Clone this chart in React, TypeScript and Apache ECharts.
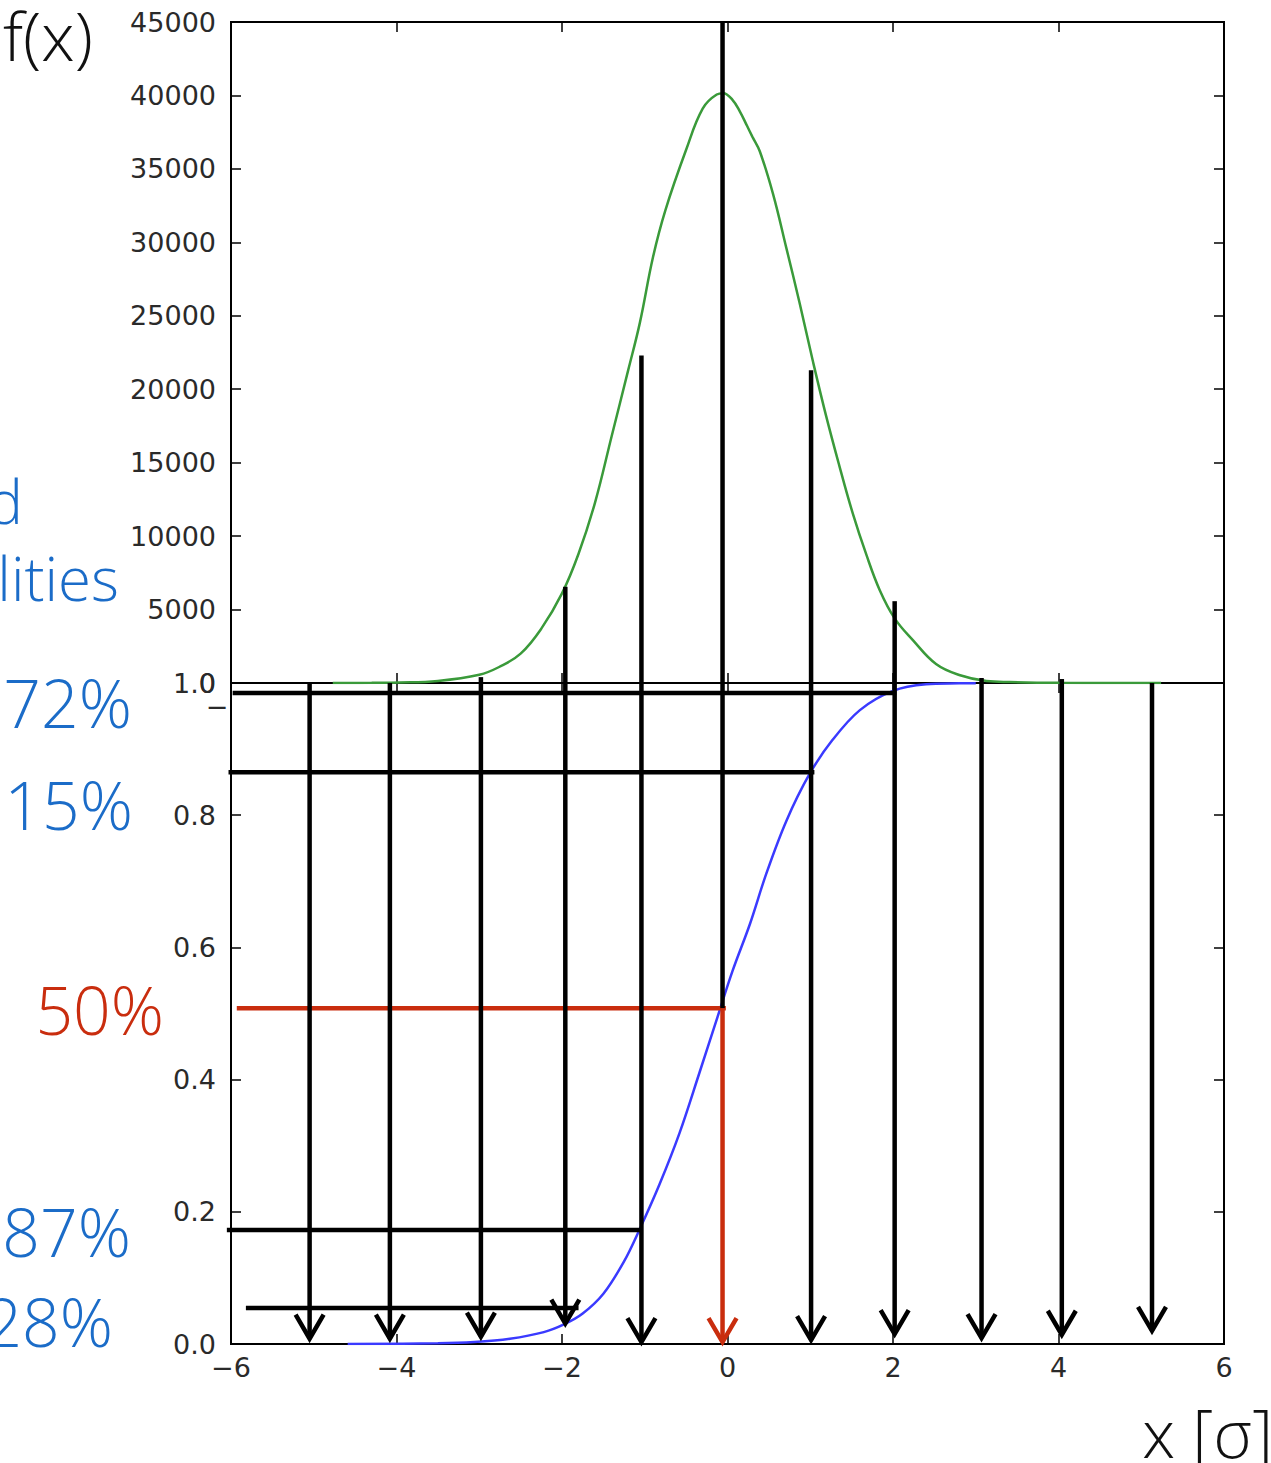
import React, { useEffect, useRef } from "react";
import * as echarts from "echarts";

// ---- data ----
// Gaussian histogram (top panel), x in sigma, f(x) counts
const pdfX = [-4.77, -4.3, -3.96, -3.5, -3.0, -2.76, -2.5, -2.25, -2.0, -1.8, -1.6, -1.4, -1.2, -1.06, -0.9, -0.75, -0.5, -0.3, -0.13, -0.05, 0.06, 0.15, 0.23, 0.3, 0.39, 0.55, 0.71, 0.87, 1.03, 1.19, 1.35, 1.51, 1.68, 1.84, 2.02, 2.24, 2.52, 2.8, 3.13, 3.41, 4.0, 4.6, 5.24];
const pdfY = [0, 10, 30, 140, 560, 1090, 2000, 3700, 6100, 8800, 12300, 16800, 21300, 24500, 29000, 32200, 36300, 39100, 40060, 40150, 39700, 38900, 38000, 37200, 36200, 33300, 29640, 25900, 21950, 18220, 14820, 11620, 8700, 6320, 4400, 2920, 1290, 544, 136, 68, 15, 5, 0];

// cumulative distribution (bottom panel)
const cdfX = [-4.59, -3.5, -3.06, -2.63, -2.22, -1.97, -1.75, -1.5, -1.25, -1.06, -0.82, -0.58, -0.34, -0.12, 0.06, 0.27, 0.47, 0.71, 0.99, 1.27, 1.6, 2.0, 2.4, 2.8, 3.0];
const cdfY = [0, 0.001, 0.003, 0.008, 0.018, 0.03, 0.046, 0.076, 0.125, 0.174, 0.242, 0.319, 0.41, 0.495, 0.564, 0.635, 0.712, 0.791, 0.862, 0.914, 0.959, 0.988, 0.998, 0.9995, 0.9998];

// vertical arrows: x position, start height in top panel (f units), tip level in bottom panel (CDF units)
const arrowX = [-5.05, -4.08, -2.98, -1.96, -1.04, 1.01, 2.02, 3.07, 4.04, 5.13];
const arrowTop = [0, 0, 400, 6550, 22300, 21300, 5570, 340, 270, 0];
const arrowTip = [0.008, 0.008, 0.011, 0.031, 0.003, 0.006, 0.015, 0.009, 0.014, 0.02];

// central (median) line
const centerX = -0.06;
const centerTop = 45000;
const medianLevel = 0.508;
const centerTip = 0.003;

// horizontal reading lines (CDF units)
const hLineY = [0.985, 0.865, 0.1725, 0.0545];
const hLineStart = [-5.98, -6.03, -6.05, -5.82];
const hLineEnd = [2.04, 1.05, -1.04, -1.8];
const redLineStart = -5.93;
const redLineEnd = -0.02;

// axis ticks
const xMin = -6, xMax = 6, xStep = 2;
const fMax = 45000, fStep = 5000;
const cMax = 1, cStep = 0.2;

// side labels
const blueLabels = ["Cumulated", "probabilities", "97.72%", "84.15%", "15.87%", "2.28%"];
const medianLabel = "50%";

const BLUE = "#1b6cc8";
const RED = "#c92d0e";
const GREEN = "#3a9a3a";
const CDFBLUE = "#3a3aff";
const LW = 4.5;
const TICK_FONT = "DejaVu Sans";
const BIG_FONT = "'Open Sans', Lato, sans-serif";

export default function App() {
  const ref = useRef<HTMLDivElement>(null);
  useEffect(() => {
    document.body.style.margin = "0";
    if (!ref.current) return;
    const chart = echarts.init(ref.current, null, { renderer: "svg" });

    const gridL = 231, gridW = 993, topT = 22, panelH = 661;
    const tickStyle = { show: true, inside: true, length: 10, lineStyle: { color: "#000", width: 1.5 } };
    const lblStyle = { fontFamily: TICK_FONT, fontSize: 27, color: "#2a2a2a" };

    const xAxisBase = (gi: number, pos: string, labels: boolean) => ({
      type: "value", gridIndex: gi, position: pos, min: xMin, max: xMax, interval: xStep,
      axisLine: { show: false, onZero: false }, axisTick: tickStyle, splitLine: { show: false },
      axisLabel: labels
        ? { show: true, margin: 10, ...lblStyle, formatter: (v: number) => (v < 0 ? "\u2212" + Math.abs(v) : String(v)) }
        : { show: false },
    });
    const yAxisBase = (gi: number, pos: string, labels: boolean, max: number, step: number, fmt: (v: number) => string) => ({
      type: "value", gridIndex: gi, position: pos, min: 0, max, interval: step,
      axisLine: { show: false, onZero: false }, axisTick: tickStyle, splitLine: { show: false },
      axisLabel: labels ? { show: true, margin: 15, ...lblStyle, formatter: fmt } : { show: false },
    });

    const pdfData = pdfX.map((x, i) => [x, pdfY[i]]);
    const cdfData = cdfX.map((x, i) => [x, cdfY[i]]);
    const topSegs = arrowX.map((x, i) => [x, arrowTop[i]]).concat([[centerX, centerTop]]);
    const bottomArrows = arrowX
      .map((x, i) => [x, cMax, arrowTip[i], 0, 1])
      .concat([[centerX, cMax, medianLevel, 0, 0], [centerX, medianLevel, centerTip, 1, 1]]);
    const hLines = hLineY
      .map((y, i) => [hLineStart[i], hLineEnd[i], y, 0])
      .concat([[redLineStart, redLineEnd, medianLevel, 1]]);

    const bigText = (text: string, x: number, y: number, fill: string, size: number, align = "right") => ({
      type: "text", x, y,
      style: { text, font: `300 ${size}px ${BIG_FONT}`, fill, textAlign: align, textVerticalAlign: "middle" },
    });

    const option: any = {
      animation: false,
      backgroundColor: "#fff",
      grid: [
        { left: gridL, top: topT, width: gridW, height: panelH, show: true, borderColor: "#000", borderWidth: 2, backgroundColor: "transparent" },
        { left: gridL, top: topT + panelH, width: gridW, height: panelH, show: true, borderColor: "#000", borderWidth: 2, backgroundColor: "transparent" },
      ],
      xAxis: [
        xAxisBase(0, "bottom", false),
        xAxisBase(0, "top", false),
        xAxisBase(1, "bottom", true),
        xAxisBase(1, "top", false),
      ],
      yAxis: [
        yAxisBase(0, "left", true, fMax, fStep, (v) => String(v)),
        yAxisBase(0, "right", false, fMax, fStep, (v) => String(v)),
        yAxisBase(1, "left", true, cMax, cStep, (v) => v.toFixed(1)),
        yAxisBase(1, "right", false, cMax, cStep, (v) => v.toFixed(1)),
      ],
      series: [
        {
          type: "line", xAxisIndex: 0, yAxisIndex: 0, data: pdfData, showSymbol: false, smooth: 0.4,
          lineStyle: { color: GREEN, width: 2.5 }, z: 2,
        },
        {
          type: "line", xAxisIndex: 2, yAxisIndex: 2, data: cdfData, showSymbol: false, smooth: 0.35,
          lineStyle: { color: CDFBLUE, width: 2.5 }, z: 2,
        },
        {
          type: "custom", xAxisIndex: 0, yAxisIndex: 0, data: topSegs, clip: false, z: 5,
          encode: { x: 0, y: 1 },
          renderItem: (_p: any, api: any) => {
            const x = api.value(0), top = api.value(1);
            const a = api.coord([x, top]);
            const b = api.coord([x, 0]);
            return { type: "line", shape: { x1: a[0], y1: a[1], x2: b[0], y2: b[1] }, style: { stroke: "#000", lineWidth: LW } };
          },
        },
        {
          type: "custom", xAxisIndex: 2, yAxisIndex: 2, data: bottomArrows, clip: false, z: 5,
          encode: { x: 0, y: [1, 2] },
          renderItem: (_p: any, api: any) => {
            const x = api.value(0), y0 = api.value(1), y1 = api.value(2);
            const col = api.value(3) ? RED : "#000";
            const a = api.coord([x, y0]);
            const b = api.coord([x, y1]);
            const children: any[] = [
              { type: "line", shape: { x1: a[0], y1: a[1], x2: b[0], y2: b[1] }, style: { stroke: col, lineWidth: LW } },
            ];
            if (api.value(4)) {
              children.push({
                type: "polyline",
                shape: { points: [[b[0] - 14, b[1] - 24], [b[0], b[1]], [b[0] + 14, b[1] - 24]] },
                style: { stroke: col, lineWidth: LW, fill: "none", lineJoin: "miter" },
              });
            }
            return { type: "group", children };
          },
        },
        {
          type: "custom", xAxisIndex: 2, yAxisIndex: 2, data: hLines, clip: false, z: 4,
          encode: { x: [0, 1], y: 2 },
          renderItem: (_p: any, api: any) => {
            const a = api.coord([api.value(0), api.value(2)]);
            const b = api.coord([api.value(1), api.value(2)]);
            const col = api.value(3) ? RED : "#000";
            return { type: "line", shape: { x1: a[0], y1: a[1], x2: b[0], y2: b[1] }, style: { stroke: col, lineWidth: LW } };
          },
        },
      ],
      graphic: [
        bigText("f(x)", 3, 35, "#111", 67, "left"),
        bigText("x [\u03c3]", 1273, 1432, "#111", 66),
        { type: "text", x: 217, y: 706, style: { text: "\u2212", font: `27px ${TICK_FONT}`, fill: "#2a2a2a", textAlign: "center", textVerticalAlign: "middle" } },
        bigText(blueLabels[0], 23, 500, BLUE, 61),
        bigText(blueLabels[1], 119, 578, BLUE, 60),
        bigText(blueLabels[2], 132, 702, BLUE, 66),
        bigText(blueLabels[3], 133, 804, BLUE, 66),
        bigText(medianLabel, 164, 1009, RED, 66),
        bigText(blueLabels[4], 131, 1231, BLUE, 66),
        bigText(blueLabels[5], 113, 1321, BLUE, 66),
      ],
    };
    chart.setOption(option);
    return () => chart.dispose();
  }, []);
  return <div ref={ref} style={{ width: 1271, height: 1463 }} />;
}
